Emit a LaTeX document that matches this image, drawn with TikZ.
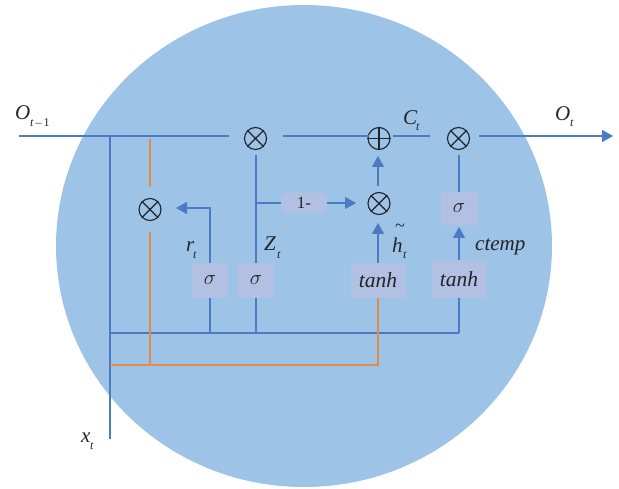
\documentclass[tikz,border=0pt]{standalone}
\usepackage{fontspec}
\setmainfont{Liberation Serif}
\usetikzlibrary{arrows.meta,calc,shapes.geometric}
\definecolor{disc}{RGB}{157,195,231}
\definecolor{boxc}{RGB}{178,193,227}
\definecolor{wire}{RGB}{76,122,196}
\definecolor{orangew}{RGB}{226,138,70}
\definecolor{ink}{RGB}{35,35,40}
\tikzset{
  x=1pt,y=-1pt,
  wireb/.style={draw=wire,line width=1.15pt},
  wireo/.style={draw=orangew,line width=1.15pt},
  arr/.style={wireb,-{Triangle[length=11pt,width=12pt,fill=wire]}},
  opcirc/.style={circle,draw=ink,line width=1.1pt,minimum size=22pt,inner sep=0pt},
  gatebox/.style={fill=boxc,inner sep=0pt,text=ink,font=\itshape\fontsize{20}{20}\selectfont},
  lab/.style={text=ink,inner sep=0pt,font=\itshape\fontsize{21}{21}\selectfont},
  sublab/.style={text=ink,inner sep=0pt,font=\itshape\fontsize{12}{12}\selectfont},
}
\newcommand{\otimesmark}[1]{%
  \draw[ink,line width=1.1pt] (#1.45)--(#1.225) (#1.135)--(#1.315);}
\newcommand{\oplusmark}[1]{%
  \draw[ink,line width=1.1pt] (#1.0)--(#1.180) (#1.90)--(#1.270);}
\begin{document}
\begin{tikzpicture}
\useasboundingbox (0,0) rectangle (619,489);
\node[ellipse,fill=disc,minimum width=496pt,minimum height=482pt,inner sep=0pt] (disc) at (304,246) {};
% operators
\node[opcirc] (m1) at (255.5,138.5) {}; \otimesmark{m1}
\node[opcirc] (m2) at (150,209.5) {}; \otimesmark{m2}
\node[opcirc] (p1) at (379,138.5) {}; \oplusmark{p1}
\node[opcirc] (m3) at (379,203.5) {}; \otimesmark{m3}
\node[opcirc] (m4) at (458.5,138.5) {}; \otimesmark{m4}
% boxes
\node[gatebox,minimum width=36pt,minimum height=35pt] (s1) at (210,280.5) {$\sigma$};
\node[gatebox,minimum width=36pt,minimum height=35pt] (s2) at (256,280.5) {$\sigma$};
\node[gatebox,minimum width=37pt,minimum height=33pt] (s3) at (459,208.5) {$\sigma$};
\node[gatebox,font=\itshape\fontsize{21.5}{21.5}\selectfont,minimum width=54pt,minimum height=35pt] (t1) at (378,280.5) {tanh};
\node[gatebox,font=\itshape\fontsize{21.5}{21.5}\selectfont,minimum width=54pt,minimum height=38pt] (t2) at (459,279) {tanh};
\node[gatebox,rounded corners=7pt,minimum width=46pt,minimum height=21pt,font=\fontsize{17}{17}\selectfont] (one) at (304,203) {1-};
% free ends and junctions
\coordinate (in) at (19,136);
\coordinate (tj) at (110,136);
\coordinate (m1l) at (229,136);
\coordinate (m1r) at (283,136);
\coordinate (p1l) at (369,136);
\coordinate (p1r) at (393,136);
\coordinate (m4l) at (430,136);
\coordinate (m4r) at (479,136);
\coordinate (out) at (613,136);
\coordinate (xb) at (110,439);
\coordinate (j1) at (110,333);
\coordinate (j2) at (110,365);
\coordinate (rj) at (210,333);
\coordinate (zj) at (256,333);
\coordinate (tj2) at (459,333);
\coordinate (oj) at (150,365);
\coordinate (otc) at (378,365);
\coordinate (rc) at (210,208);
\coordinate (rtip) at (176,208);
\coordinate (zt) at (256,155);
\coordinate (zb) at (256,203);
\coordinate (ot) at (150,139);
\coordinate (ob) at (150,187);
\coordinate (ob2) at (150,232);
\coordinate (onetip) at (356,203);
\coordinate (h1) at (378,223);
\coordinate (h2) at (378,186);
\coordinate (h3) at (378,156);
\coordinate (c1) at (459,227);
\coordinate (c2) at (459,192);
\coordinate (c3) at (459,155.5);
% blue wires
\draw[wireb] (in)--(m1l);
\draw[wireb] (m1r)--(p1l);
\draw[wireb] (p1r)--(m4l);
\draw[arr] (m4r)--(out);
\draw[wireb] (tj)--(xb);
\draw[wireb] (j1)--(tj2);
\draw[wireb] (rj)--(s1.south);
\draw[arr] (s1.north)--(rc)--(rtip);
\draw[wireb] (zj)--(s2.south);
\draw[wireb] (s2.north)--(zt);
\draw[wireb] (zb)--(one.west);
\draw[arr] (one.east)--(onetip);
\draw[arr] (t1.north)--(h1);
\draw[arr] (h2)--(h3);
\draw[wireb] (tj2)--(t2.south);
\draw[arr] (t2.north)--(c1);
\draw[wireb] (c2)--(c3);
% orange wires
\draw[wireo] (ot)--(ob);
\draw[wireo] (ob2)--(oj);
\draw[wireo] (j2)--(otc)--(t1.south);
% labels
\node[lab,anchor=base west] (lo1) at (15,120) {O};
\node[sublab,anchor=base west] (lo1s) at (30,127) {t\,{\upshape –\,1}};
\node[lab,anchor=base west] (lc) at (403,125) {C};
\node[sublab,anchor=base west] (lcs) at (416,131) {t};
\node[lab,anchor=base west] (lo) at (555,121) {O};
\node[sublab,anchor=base west] (los) at (570,127) {t};
\node[lab,anchor=base west] (lr) at (186,252) {r};
\node[sublab,anchor=base west] (lrs) at (193,259) {t};
\node[lab,anchor=base west] (lz) at (264,251) {Z};
\node[sublab,anchor=base west] (lzs) at (277,259) {t};
\node[lab,anchor=base west] (lh) at (392,253) {h};
\node[sublab,anchor=base west] (lhs) at (403,259) {t};
\node[text=ink,font=\fontsize{18}{18}\selectfont,inner sep=0pt] (lht) at (400,228) {\char"7E};
\node[text=ink,inner sep=0pt,anchor=base west,font=\itshape\fontsize{21}{21}\selectfont] (lct) at (475,251) {ctemp};
\node[lab,anchor=base west] (lx) at (81,442) {x};
\node[sublab,anchor=base west] (lxs) at (90,449) {t};
\end{tikzpicture}
\end{document}
